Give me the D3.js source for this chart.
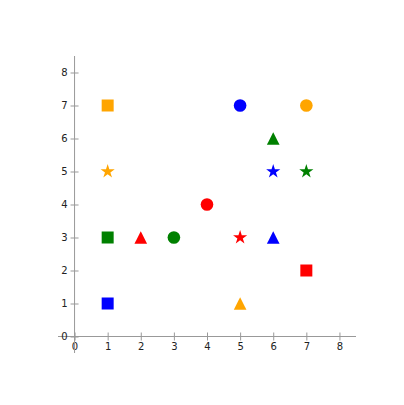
<!DOCTYPE html>
<html><head><meta charset="utf-8">
<script src="https://cdn.jsdelivr.net/npm/d3@7"></script>
<style>body{margin:0;background:#fff}</style>
</head><body>
<svg id="c" width="404" height="405"></svg>
<script>
const xs = [1, 1, 7, 5, 5, 6, 6, 1, 6, 7, 1, 3, 4, 2, 5, 7];
const ys = [7, 5, 7, 1, 7, 5, 3, 1, 6, 5, 3, 3, 4, 3, 3, 2];
const colors = ["orange","orange","orange","orange","blue","blue","blue","blue","green","green","green","green","red","red","red","red"];
const shapes = ["square","star","circle","triangle","circle","star","triangle","square","triangle","star","square","circle","circle","triangle","star","square"];
const ticks = [0,1,2,3,4,5,6,7,8];

const svg = d3.select("#c");
const x = d3.scaleLinear().domain([-0.5, 8.5]).range([58, 356]);
const y = d3.scaleLinear().domain([-0.5, 8.5]).range([353, 56]);
const axisColor = "#999";

const gx = svg.append("g").attr("transform", `translate(0,${y(0)})`)
  .call(d3.axisBottom(x).tickValues(ticks).tickSize(0).tickPadding(6).tickFormat(d3.format("d")));
gx.select(".domain").attr("stroke", axisColor).attr("d", `M${x(-0.5)},0H${x(8.5)}`);
gx.selectAll(".tick").append("line").attr("y1", -4).attr("y2", 4).attr("stroke", axisColor);
gx.selectAll("text").attr("font-family", "DejaVu Sans").attr("font-size", 10).attr("fill", "#222");

const gy = svg.append("g").attr("transform", `translate(${x(0)},0)`)
  .call(d3.axisLeft(y).tickValues(ticks).tickSize(0).tickPadding(7).tickFormat(d3.format("d")));
gy.select(".domain").attr("stroke", axisColor).attr("d", `M0,${y(8.5)}V${y(-0.5)}`);
gy.selectAll(".tick").append("line").attr("x1", -4).attr("x2", 4).attr("stroke", axisColor);
gy.selectAll("text").attr("font-family", "DejaVu Sans").attr("font-size", 10).attr("fill", "#222");

const tri = {draw(ctx, size) { const r = Math.sqrt(size) / 2; ctx.moveTo(0, -r); ctx.lineTo(r, r); ctx.lineTo(-r, r); ctx.closePath(); }};
const symType = {square: d3.symbolSquare, circle: d3.symbolCircle, triangle: tri, star: d3.symbolStar};
const symSize = {square: 144, circle: 125, triangle: 160, star: 62};
const sym = d3.symbol();
svg.append("g").selectAll("path").data(xs.map((v,i)=>i)).join("path")
  .attr("transform", i => `translate(${x(xs[i])},${y(ys[i])})`)
  .attr("d", i => sym.type(symType[shapes[i]]).size(symSize[shapes[i]])())
  .attr("fill", i => colors[i]);
</script>
</body></html>
